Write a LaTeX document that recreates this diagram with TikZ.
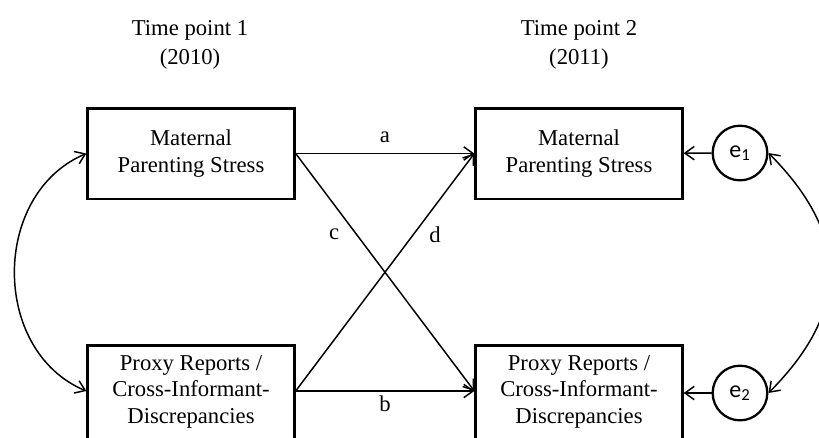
\documentclass[tikz,border=0pt]{standalone}
\usepackage{fontspec}
\setmainfont{Liberation Serif}
\setsansfont{Carlito}
\usetikzlibrary{arrows.meta}
\usetikzlibrary{positioning}
\tikzset{var/.style = {draw, line width=2pt, minimum width=155pt, minimum height=68pt,
                       align=center, inner sep=0, font=\fontsize{17}{20}\selectfont}}
\tikzset{low/.style = {minimum height=76pt, text depth=10pt}}
\tikzset{resid/.style = {draw, circle, line width=1.7pt, minimum size=41pt, inner sep=0,
                         font=\sffamily\fontsize{18}{20}\selectfont}}
\tikzset{arr/.style = {line width=1.1pt, -{Straight Barb[length=7pt, width=10pt]}}}
\tikzset{dbl/.style = {line width=1.1pt,
                       {Straight Barb[length=7pt, width=10pt]}-{Straight Barb[length=7pt, width=10pt]}}}
\tikzset{lbl/.style = {font=\fontsize{17}{20}\selectfont}}

\begin{document}
\begin{tikzpicture}[x=0.75pt, y=-0.75pt]
      \useasboundingbox (0, 0) rectangle (819, 437);

      \node [lbl, align=center] (time1) at (190, 45) {Time point 1\\[2pt](2010)};
      \node [lbl, align=center] (time2) at (579, 45) {Time point 2\\[2pt](2011)};

      \node [var] (stress1) at (191, 153.5) {Maternal\\Parenting Stress};
      \node [var] (stress2) at (579, 153.5) {Maternal\\Parenting Stress};
      \node [var, low] (proxy1) at (191, 396) {Proxy Reports /\\Cross-Informant-\\Discrepancies};
      \node [var, low] (proxy2) at (579, 396) {Proxy Reports /\\Cross-Informant-\\Discrepancies};
      \coordinate (p1) at (proxy1.west |- 0, 391);
      \coordinate (p2) at (proxy2.west |- 0, 391);
      \coordinate (q1) at (proxy1.east |- 0, 391);

      \node [resid] (e1) at (740, 153) {e\textsubscript{1}};
      \node [resid] (e2) at (740, 393) {e\textsubscript{2}};

      \draw [arr] (stress1.east) -- node [lbl, above=4pt] {a} (stress2.west);
      \draw [arr] (q1) -- node [lbl, below] {b} (p2);
      \draw [arr] (stress1.east) -- node [lbl, pos=0.34, left=9pt] {c} (p2);
      \draw [arr] (q1) -- node [lbl, pos=0.66, right=8pt] {d} (stress2.west);

      \draw [arr] (e1) -- (stress2);
      \draw [arr] (e2) -- (proxy2.east |- e2);

      \draw [dbl] (stress1.west) .. controls (-9, 194) and (-9, 351) .. (p1);
      \draw [dbl] (e1.east) .. controls (850, 235) and (850, 311) .. (e2.east);
    \end{tikzpicture}
\end{document}
